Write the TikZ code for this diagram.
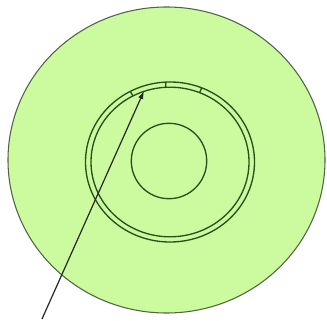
\documentclass[tikz,border=0pt]{standalone}
\usepackage{xcolor}
\usepackage{tikz}
\usetikzlibrary{arrows.meta}
\definecolor{discfill}{RGB}{204,250,158}
\definecolor{discedge}{RGB}{80,100,70}
\definecolor{ringline}{RGB}{40,80,28}
\tikzset{
  disc/.style  ={draw=discedge, fill=discfill, line width=0.8pt},
  ring/.style  ={draw=ringline, line width=1pt},
  arr/.style   ={-{Latex[length=6pt, width=4pt]}, line width=0.9pt, draw=black!85},
}
\begin{document}
\begin{tikzpicture}[x=0.75pt, y=-0.75pt]
  \useasboundingbox (0,0) rectangle (327,320);

  % disc and rings
  \draw[disc] (166.5,160) ellipse [x radius=158.5, y radius=153];
  \draw[ring] (170,162) ellipse [x radius=84.5, y radius=80];
  \draw[ring] (170,162) ellipse [x radius=79, y radius=74.8];
  \draw[ring] (169,161) circle [radius=37.7];

  % segment ticks between the rings
  \foreach \a in {118,93,68}
    \draw[ring] ({170+79*cos(\a)},{162-74.8*sin(\a)}) -- ({170+84.5*cos(\a)},{162-80*sin(\a)});

  % pointer
  \coordinate (tail) at (42,319);
  \coordinate (tip)  at (144,91);
  \draw[arr] (tail) -- (tip);
\end{tikzpicture}
\end{document}
